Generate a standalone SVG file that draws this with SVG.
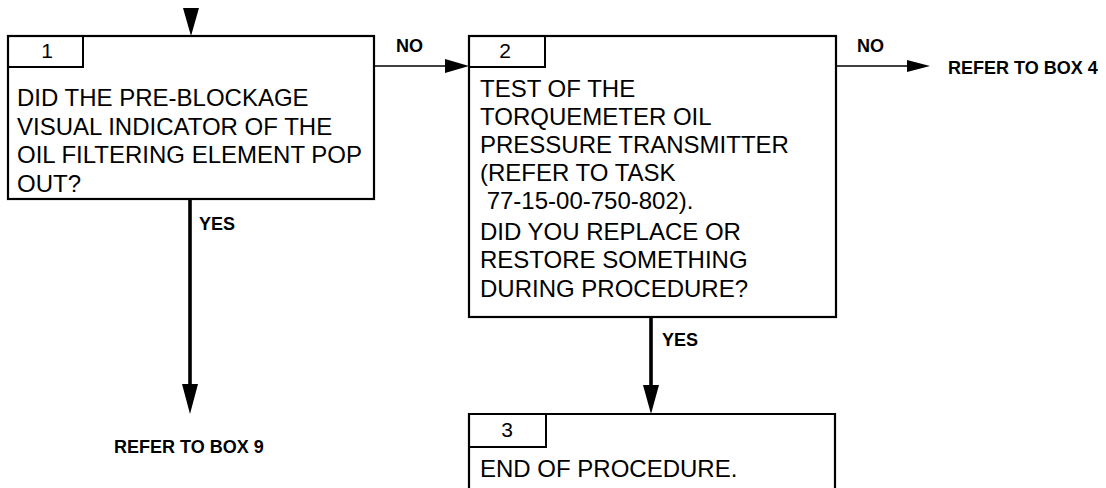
<svg xmlns="http://www.w3.org/2000/svg" width="1106" height="488" viewBox="0 0 1106 488">
<style>
.box{fill:#fff;stroke:#000;stroke-width:2.2}
.tab{fill:none;stroke:#000;stroke-width:2}
.t{font-family:"Liberation Sans",Arial,sans-serif;font-size:24px;fill:#000}
.n{font-family:"Liberation Sans",Arial,sans-serif;font-size:21px;fill:#000;text-anchor:middle}
.lbl{font-family:"Liberation Sans",Arial,sans-serif;font-size:18px;font-weight:bold;fill:#000}
.h{stroke:#000;stroke-width:1.6;fill:none}
.v{stroke:#000;stroke-width:3.6;fill:none}
.ah{fill:#000}
</style>
<rect width="1106" height="488" fill="#fff"/>
<g id="connectors">
<polygon class="ah" points="183,8 199,8 191,36"/>
<line class="h" x1="374" y1="66" x2="447" y2="66"/>
<polygon class="ah" points="445,59 469,66 445,73"/>
<text class="lbl" x="396" y="52">NO</text>
<line class="h" x1="836" y1="66" x2="909" y2="66"/>
<polygon class="ah" points="907,60 930,66 907,72"/>
<text class="lbl" x="857" y="52">NO</text>
<text class="lbl" x="948" y="74">REFER TO BOX 4</text>
<line class="v" x1="190" y1="199" x2="190" y2="386"/>
<polygon class="ah" points="182,384 198,384 190,414"/>
<text class="lbl" x="199" y="230">YES</text>
<text class="lbl" x="114" y="453">REFER TO BOX 9</text>
<line class="v" x1="651" y1="317" x2="651" y2="387"/>
<polygon class="ah" points="643,385 659,385 651,414"/>
<text class="lbl" x="662" y="346">YES</text>
</g>
<g id="box1">
<rect class="box" x="8" y="36" width="366" height="163"/>
<polyline class="tab" points="8,67 83,67 83,36"/>
<text class="n" x="47" y="58">1</text>
<text class="t" x="17" y="106">DID THE PRE-BLOCKAGE</text>
<text class="t" x="17" y="135">VISUAL INDICATOR OF THE</text>
<text class="t" x="17" y="163">OIL FILTERING ELEMENT POP</text>
<text class="t" x="17" y="192">OUT?</text>
</g>
<g id="box2">
<rect class="box" x="469" y="36" width="367" height="281"/>
<polyline class="tab" points="469,67 545,67 545,36"/>
<text class="n" x="505" y="58">2</text>
<text class="t" x="480" y="97">TEST OF THE</text>
<text class="t" x="480" y="125">TORQUEMETER OIL</text>
<text class="t" x="480" y="153">PRESSURE TRANSMITTER</text>
<text class="t" x="480" y="181">(REFER TO TASK</text>
<text class="t" x="480" y="209" xml:space="preserve"> 77-15-00-750-802).</text>
<text class="t" x="480" y="240">DID YOU REPLACE OR</text>
<text class="t" x="480" y="268">RESTORE SOMETHING</text>
<text class="t" x="480" y="297">DURING PROCEDURE?</text>
</g>
<g id="box3">
<path class="box" d="M469,492 V414 H835 V492"/>
<polyline class="tab" points="469,447 546,447 546,414"/>
<text class="n" x="507" y="437">3</text>
<text class="t" x="480" y="477">END OF PROCEDURE.</text>
</g>
</svg>
